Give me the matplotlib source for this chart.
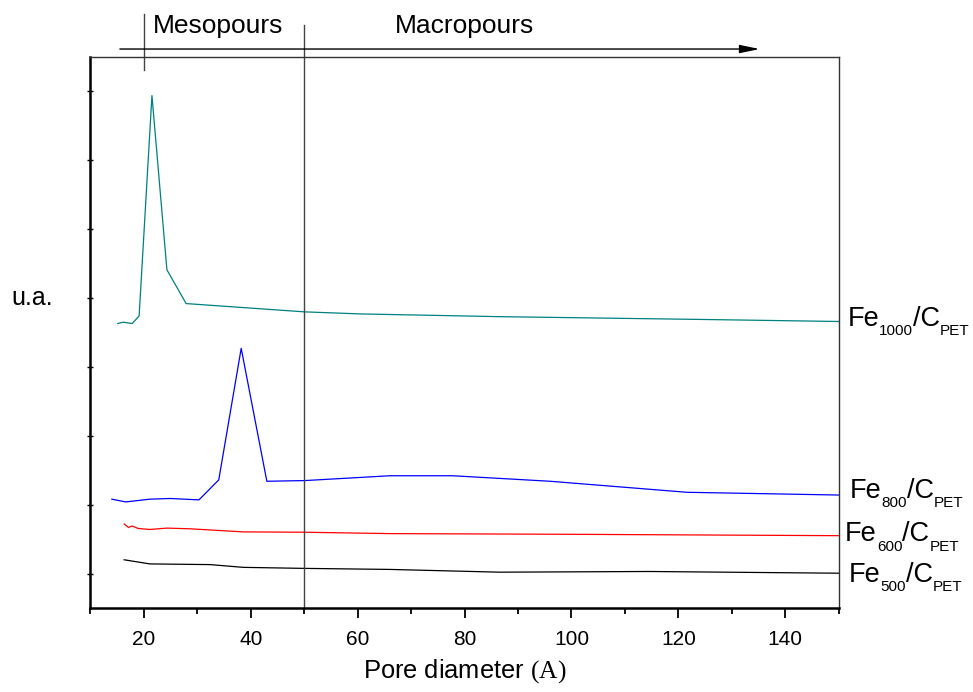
import matplotlib
matplotlib.use("Agg")
import matplotlib.pyplot as plt

plt.rcParams['font.family'] = ['Liberation Sans', 'DejaVu Sans']
plt.rcParams['mathtext.fontset'] = 'custom'
plt.rcParams['mathtext.rm'] = 'Liberation Sans'
plt.rcParams['mathtext.tt'] = 'Liberation Serif'

# courbes (unites arbitraires en y)
x_1000 = [15.1, 16.1, 17.8, 19.1, 21.5, 24.3, 27.9, 50.0, 60.4, 86.6, 124.0, 150.0]
y_1000 = [4.13, 4.15, 4.13, 4.24, 7.44, 4.91, 4.42, 4.30, 4.27, 4.23, 4.19, 4.16]

x_800 = [14.0, 16.6, 21.1, 24.9, 30.3, 34.0, 38.2, 43.0, 50.1, 66.0, 77.8, 96.0, 121.6, 150.0]
y_800 = [1.58, 1.54, 1.58, 1.59, 1.57, 1.86, 3.77, 1.84, 1.85, 1.92, 1.92, 1.84, 1.68, 1.64]

x_600 = [16.3, 17.1, 17.8, 18.9, 21.1, 24.3, 28.6, 38.6, 50.1, 66.0, 100.0, 150.0]
y_600 = [1.22, 1.17, 1.19, 1.155, 1.14, 1.16, 1.15, 1.105, 1.10, 1.08, 1.07, 1.05]

x_500 = [16.3, 21.1, 32.4, 38.6, 50.1, 66.0, 86.6, 114.6, 150.0]
y_500 = [0.70, 0.64, 0.63, 0.59, 0.575, 0.56, 0.52, 0.53, 0.505]

temperatures = ["1000", "800", "600", "500"]
pos_noms = [(151.6, 4.10), (152.1, 1.60), (151.2, 0.97), (151.9, 0.38)]

fig = plt.figure(figsize=(9.73, 6.92), dpi=100)
ax = fig.add_axes([0.093, 0.1214, 0.769, 0.7962])

ax.plot(x_1000, y_1000, color='#008080', lw=0.9)
ax.plot(x_800, y_800, color='#0000ff', lw=0.9)
ax.plot(x_600, y_600, color='#ff0000', lw=0.9)
ax.plot(x_500, y_500, color='black', lw=0.9)

ax.set_xlim(10, 150)
ax.set_ylim(0, 8)
ax.set_xticks([20, 40, 60, 80, 100, 120, 140])
ax.set_xticks([10, 30, 50, 70, 90, 110, 130, 150], minor=True)
ax.set_yticks([0.5, 1.5, 2.5, 3.5, 4.5, 5.5, 6.5, 7.5])
ax.set_yticklabels([])
ax.tick_params(axis='x', which='major', length=7, width=1.3, labelsize=15, pad=9)
ax.tick_params(axis='x', which='minor', length=4, width=1.3)
ax.tick_params(axis='y', direction='inout', length=5, width=1)

for s in ['left', 'bottom']:
    ax.spines[s].set_linewidth(1.8)
    ax.spines[s].set_color('black')
for s in ['top', 'right']:
    ax.spines[s].set_linewidth(1.0)
    ax.spines[s].set_color('#333333')

# separation meso / macro
ax.plot([50, 50], [0, 8.46], color='#444444', lw=1.0, clip_on=False)
ax.plot([20, 20], [7.81, 8.62], color='#444444', lw=1.0, clip_on=False)
ax.annotate('', xy=(135.2, 8.116), xytext=(15.5, 8.116), annotation_clip=False,
            arrowprops=dict(arrowstyle='-|>,head_length=1.2,head_width=0.25',
                            color='black', lw=1.0, shrinkA=0, shrinkB=0))
ax.text(21.7, 8.45, "Mesopours", fontsize=19, va='center', ha='left', clip_on=False)
ax.text(67.0, 8.45, "Macropours", fontsize=19, va='center', ha='left', clip_on=False)


def etiquette(x, y, temp, grand=19.5, petit=11, dy=4.7):
    # Fe_temp/C_PET avec des indices plus petits que ceux de mathtext
    t = ax.text(x, y, "Fe", fontsize=grand, va='baseline', ha='left', clip_on=False)
    morceaux = [(temp, petit, -dy), ("/C", grand, dy), ("PET", petit, -dy)]
    for txt, taille, decal in morceaux:
        t = ax.annotate(txt, xy=(1, 0), xycoords=t, xytext=(0, decal),
                        textcoords='offset points', fontsize=taille,
                        va='bottom', ha='left', annotation_clip=False)


for temp, (xn, yn) in zip(temperatures, pos_noms):
    etiquette(xn, yn, temp)

fig.text(0.012, 0.569, "u.a.", fontsize=18, va='center', ha='left')
ax.set_xlabel(r"Pore diameter $\mathtt{(A)}$", fontsize=18.4, labelpad=6)

fig.savefig("out.png", dpi=100)
